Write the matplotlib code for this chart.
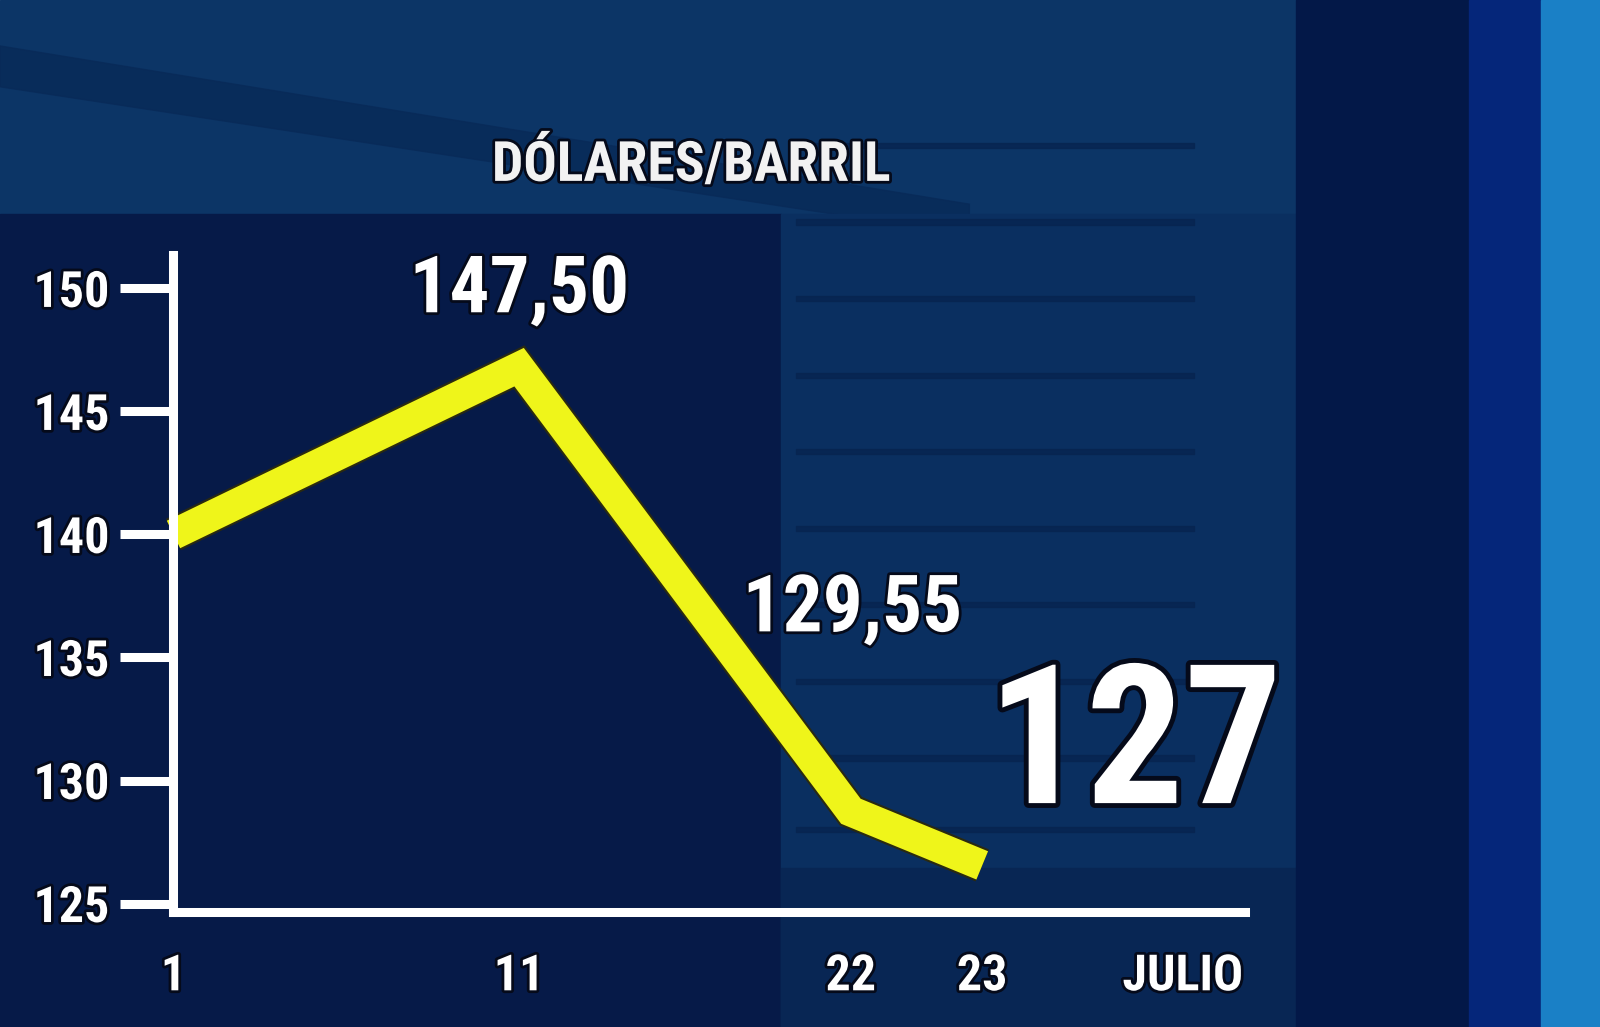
import matplotlib
matplotlib.use("Agg")
import matplotlib.pyplot as plt
import matplotlib.patheffects as pe
from matplotlib.patches import Rectangle, Polygon

# oil price, dollars per barrel, July
days = ['1', '11', '22', '23']
x_pos = [1, 11, 20.6, 24.4]          # where each day sits along the drawn axis
prices = [140.0, 146.8, 128.75, 126.55]
price_labels = ['147,50', '129,55', '127']
y_ticks = [125, 130, 135, 140, 145, 150]
month = 'JULIO'
month_pos = 30.2
title = 'DÓLARES/BARRIL'

FONT = ['Roboto Condensed', 'DejaVu Sans']
W, H = 1568, 1006   # reference pixel grid used for the layout

fig = plt.figure(figsize=(16, 10.27), dpi=100)

# --- TV-graphic background ---
bg = fig.add_axes([0, 0, 1, 1])
bg.set_xlim(0, W)
bg.set_ylim(H, 0)
bg.axis('off')
bg.add_patch(Rectangle((0, 0), W, H, color='#0c3566'))
bg.add_patch(Polygon([(0, 45), (0, 85), (950, 230), (950, 200)], color='#082a58', alpha=0.8))
bg.add_patch(Rectangle((0, 210), 765, H - 210, color='#061a48'))
bg.add_patch(Rectangle((765, 210), 505, H - 210, color='#0a2f60'))
bg.add_patch(Rectangle((765, 850), 505, H - 850, color='#082654'))
for yy in [140, 215, 290, 365, 440, 515, 590, 665, 740, 810]:
    bg.add_patch(Rectangle((780, yy), 390, 5, color='#072450', alpha=0.8))
bg.add_patch(Rectangle((1270, 0), 170, H, color='#031848'))
bg.add_patch(Rectangle((1440, 0), 70, H, color='#05267a'))
bg.add_patch(Rectangle((1510, 0), 58, H, color='#1a80c6'))

# --- chart ---
ax = fig.add_axes([170 / W, 1 - 893 / H, 1050 / W, 643 / H])
ax.set_facecolor('none')
ax.set_xlim(1, 32)
ax.set_ylim(124.67, 151.35)

for side in ['top', 'right']:
    ax.spines[side].set_visible(False)
for side in ['left', 'bottom']:
    ax.spines[side].set_color('white')
    ax.spines[side].set_linewidth(6.5)
    ax.spines[side].set_capstyle('projecting')

outline = [pe.withStroke(linewidth=4, foreground='#050a1a')]

ax.set_yticks(y_ticks)
ax.set_yticklabels([str(v) for v in y_ticks])
ax.tick_params(axis='y', direction='out', length=38, width=6.5, color='white',
               pad=8, labelcolor='white', labelsize=36)
ax.set_xticks(x_pos + [month_pos])
ax.set_xticklabels(days + [month])
ax.tick_params(axis='x', length=0, pad=30, labelcolor='white', labelsize=36)
for lab in ax.get_xticklabels() + ax.get_yticklabels():
    lab.set_family(FONT)
    lab.set_fontweight('bold')
    lab.set_path_effects(outline)

ax.plot(x_pos, prices, color='#eff51a', lw=22, solid_joinstyle='miter',
        solid_capstyle='butt', clip_on=False,
        path_effects=[pe.Stroke(linewidth=25, foreground='#2a2a10'), pe.Normal()])

# value labels next to the points
offsets = [(0, 55), (1, 145), (110, 83)]
sizes = [57, 57, 140]
for i, (txt, off, fs) in enumerate(zip(price_labels, offsets, sizes)):
    ax.annotate(txt, xy=(x_pos[i + 1], prices[i + 1]), xytext=off,
                textcoords='offset points', ha='center', va='center',
                fontsize=fs, fontweight='bold', family=FONT, color='white',
                path_effects=[pe.withStroke(linewidth=7 if fs > 100 else 4,
                                            foreground='#050a1a')])

fig.text(677 / W, 1 - 162 / H, title, ha='center', va='center', fontsize=40,
         fontweight='bold', family=FONT, color='#f2f2f2', path_effects=outline)

fig.savefig('out.png', dpi=100)
